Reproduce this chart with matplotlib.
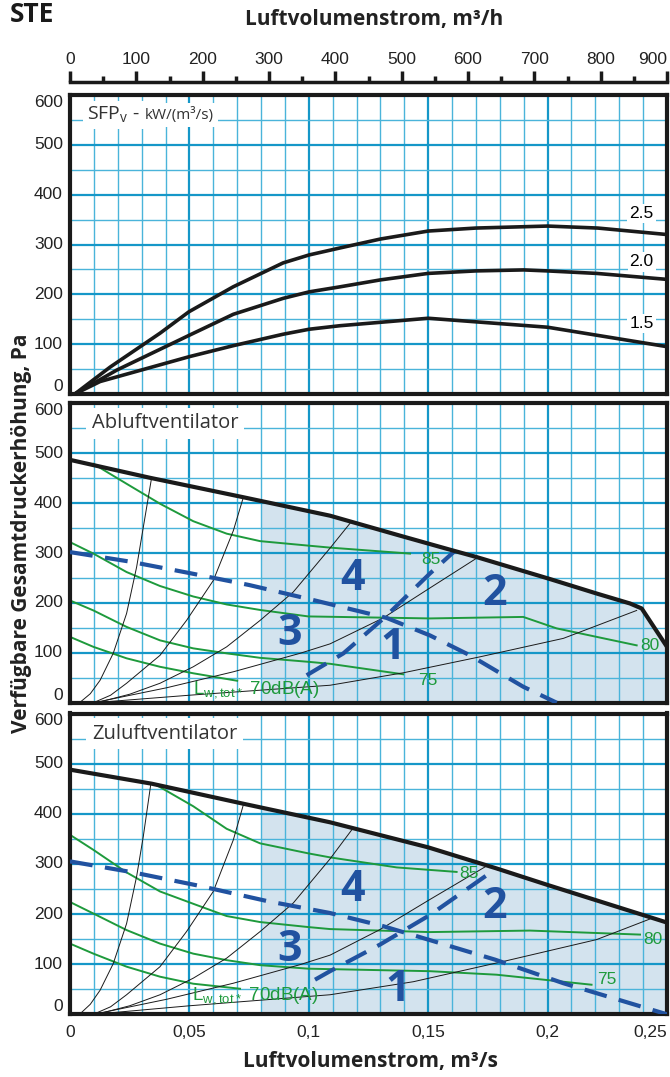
import numpy as np
import matplotlib.pyplot as plt
import matplotlib.font_manager as fm
from matplotlib.ticker import MultipleLocator

# ---- top panel: SFPv curves (x in m3/s, y in Pa)
sfp25_x = [0.002, 0.0168, 0.0377, 0.0498, 0.0683, 0.0892, 0.1001, 0.113, 0.130, 0.150, 0.170, 0.200, 0.221, 0.25]
sfp25_y = [0, 54, 122, 165, 215, 263, 279, 293, 311, 327, 333, 337, 333, 320]
sfp20_x = [0.002, 0.0196, 0.050, 0.0684, 0.0893, 0.1002, 0.113, 0.130, 0.150, 0.170, 0.190, 0.200, 0.2205, 0.25]
sfp20_y = [0, 48, 118, 160, 192, 205, 215, 229, 242, 247, 249, 247, 242, 230]
sfp15_x = [0.002, 0.0126, 0.050, 0.0684, 0.0893, 0.1002, 0.113, 0.150, 0.200, 0.25]
sfp15_y = [0, 25, 75, 97, 120, 130, 137, 152, 134, 95]
sfp_labels = ['2.5', '2.0', '1.5']
sfp_label_y = [363, 265, 142]

# ---- Abluftventilator
ab_max_x = [0, 0.0335, 0.0726, 0.1089, 0.1382, 0.1605, 0.1703, 0.2003, 0.2205, 0.2345, 0.2394, 0.25]
ab_max_y = [487, 451, 412, 375, 335, 305, 292, 249, 219, 199, 189, 112]
ab_dash1_x = [0, 0.025, 0.05, 0.075, 0.1, 0.1326, 0.1507, 0.1675, 0.1898, 0.2038]
ab_dash1_y = [302, 283, 260, 236, 208, 170, 135, 95, 32, 0]
ab_dash2_x = [0.0991, 0.1145, 0.132, 0.1507, 0.1613]
ab_dash2_y = [55, 99, 172, 259, 305]
ab_g85_x = [0.0098, 0.0237, 0.0377, 0.0516, 0.0656, 0.0796, 0.0998, 0.1089, 0.1424]
ab_g85_y = [479, 439, 399, 364, 339, 324, 315, 311, 299]
ab_g80_x = [0, 0.0098, 0.0237, 0.0377, 0.0516, 0.0656, 0.0796, 0.0998, 0.1507, 0.1898, 0.2038, 0.2373]
ab_g80_y = [322, 299, 262, 234, 213, 197, 186, 173, 169, 172, 149, 115]
ab_g75_x = [0, 0.0098, 0.0237, 0.0377, 0.0516, 0.0656, 0.0796, 0.0998, 0.1089, 0.1395]
ab_g75_y = [205, 185, 152, 125, 109, 99, 90, 82, 78, 57]
ab_g70_x = [0, 0.0098, 0.0237, 0.0377, 0.0516, 0.0700]
ab_g70_y = [132, 112, 89, 72, 59, 44]
ab_t1_x = [0.004, 0.0085, 0.0126, 0.0181, 0.0237, 0.0279, 0.0307, 0.0342]
ab_t1_y = [0, 18, 45, 99, 179, 272, 352, 452]
ab_t2_x = [0.0098, 0.017, 0.0237, 0.0377, 0.0488, 0.0600, 0.0684, 0.0726]
ab_t2_y = [0, 15, 39, 95, 165, 245, 345, 412]
ab_t3_x = [0.0112, 0.025, 0.0377, 0.0516, 0.0656, 0.0796, 0.0935, 0.1005, 0.1089, 0.1173]
ab_t3_y = [0, 17, 39, 72, 112, 165, 222, 262, 310, 360]
ab_t4_x = [0.01, 0.0405, 0.0684, 0.0963, 0.1089, 0.1312, 0.1507, 0.171]
ab_t4_y = [0, 30, 62, 99, 118, 170, 230, 292]
ab_t5_x = [0.01, 0.05, 0.1089, 0.1396, 0.1717, 0.2066, 0.2373]
ab_t5_y = [0, 15, 35, 60, 92, 129, 185]

# ---- Zuluftventilator
zu_max_x = [0, 0.0342, 0.0726, 0.1089, 0.150, 0.1786, 0.200, 0.25]
zu_max_y = [488, 460, 420, 383, 333, 291, 258, 183]
zu_dash1_x = [0, 0.0265, 0.0544, 0.0824, 0.1089, 0.131, 0.150, 0.178, 0.2066, 0.25]
zu_dash1_y = [305, 283, 256, 226, 202, 176, 149, 109, 62, 0]
zu_dash2_x = [0.1026, 0.1089, 0.1298, 0.1507, 0.1786]
zu_dash2_y = [69, 86, 139, 198, 291]
zu_g85_x = [0.0363, 0.0516, 0.0656, 0.0796, 0.0998, 0.1089, 0.1368, 0.1619]
zu_g85_y = [457, 415, 370, 341, 321, 313, 293, 284]
zu_g80_x = [0, 0.0098, 0.0237, 0.0377, 0.053, 0.0656, 0.0796, 0.0998, 0.1089, 0.1507, 0.1926, 0.2387]
zu_g80_y = [358, 328, 283, 245, 218, 196, 184, 174, 170, 164, 167, 159]
zu_g75_x = [0, 0.0098, 0.0237, 0.0377, 0.0516, 0.0656, 0.0796, 0.0998, 0.1507, 0.1786, 0.2184]
zu_g75_y = [224, 201, 168, 141, 121, 108, 98, 91, 86, 79, 59]
zu_g70_x = [0, 0.0098, 0.0237, 0.0377, 0.0516, 0.0712]
zu_g70_y = [141, 121, 95, 75, 61, 51]
zu_t1_x = [0.004, 0.0085, 0.0126, 0.0181, 0.0237, 0.0279, 0.0307, 0.0338]
zu_t1_y = [0, 20, 48, 101, 181, 275, 355, 458]
zu_t2_x = [0.0098, 0.017, 0.0237, 0.0377, 0.0488, 0.0600, 0.0684, 0.0726]
zu_t2_y = [0, 15, 39, 95, 165, 245, 348, 418]
zu_t3_x = [0.0112, 0.025, 0.0377, 0.0516, 0.0656, 0.0796, 0.0935, 0.1005, 0.1089, 0.118]
zu_t3_y = [0, 17, 39, 72, 112, 165, 222, 262, 310, 368]
zu_t4_x = [0.01, 0.0405, 0.0684, 0.0963, 0.1089, 0.1298, 0.1507, 0.1738]
zu_t4_y = [0, 30, 62, 99, 118, 169, 229, 294]
zu_t5_x = [0.01, 0.05, 0.1089, 0.1438, 0.1829, 0.2205, 0.2428]
zu_t5_y = [0, 17, 39, 65, 107, 149, 190]

shade_from = 0.08
y_ticks = [0, 100, 200, 300, 400, 500, 600]
x_ticks = [0, 0.05, 0.1, 0.15, 0.2, 0.25]
x_tick_labels = ['0', '0,05', '0,1', '0,15', '0,2', '0,25']
top_ticks = [0, 100, 200, 300, 400, 500, 600, 700, 800, 900]

names = {f.name for f in fm.fontManager.ttflist}
if 'Liberation Sans Narrow' in names:
    narrow, tsize = 'Liberation Sans Narrow', 13.5
elif 'Liberation Sans' in names:
    narrow, tsize = 'Liberation Sans', 12.5
else:
    narrow, tsize = 'DejaVu Sans', 11
lfont = 'Open Sans' if 'Open Sans' in names else 'DejaVu Sans'

GRID_MAJ = '#1597c8'
GRID_MIN = '#4ab4da'
BLUE = '#2152a0'
GREEN = '#1e9a3c'
SHADE = '#d3e3ee'
DARK = '#1a1a1a'

W, H = 670, 1077
fig = plt.figure(figsize=(W / 100, H / 100), dpi=100)


def rect(top, bottom):
    return [70 / W, 1 - bottom / H, 597 / W, (bottom - top) / H]


def base_axes(r):
    ax = fig.add_axes(r)
    ax.set_xlim(0, 0.25)
    ax.set_ylim(0, 600)
    ax.xaxis.set_major_locator(MultipleLocator(0.05))
    ax.xaxis.set_minor_locator(MultipleLocator(0.01))
    ax.yaxis.set_major_locator(MultipleLocator(100))
    ax.yaxis.set_minor_locator(MultipleLocator(50))
    ax.grid(which='major', color=GRID_MAJ, lw=1.6)
    ax.grid(which='minor', color=GRID_MIN, lw=1.0)
    ax.set_axisbelow(True)
    for s in ax.spines.values():
        s.set_linewidth(3)
        s.set_color(DARK)
    ax.tick_params(which='both', length=0, labelleft=False, labelbottom=False)
    # y tick labels as texts so the end labels can sit inside the panel
    for v in y_ticks:
        va = 'bottom' if v == 0 else ('top' if v == 600 else 'center')
        ax.text(-0.012, v, str(v), transform=ax.get_yaxis_transform(),
                ha='right', va=va, fontsize=tsize, family=narrow, color='#222222')
    return ax


def fan_panel(ax, title, mx, my, d1x, d1y, d2x, d2y, greens, thins, glabels, lw_pos, nums):
    mx = np.asarray(mx)
    sx = np.concatenate([[shade_from], mx[mx > shade_from]])
    sy = np.interp(sx, mx, my)
    ax.fill_between(sx, 0, sy, color=SHADE, lw=0, zorder=0.2)
    for gx, gy in greens:
        ax.plot(gx, gy, color=GREEN, lw=1.4, zorder=2)
    for tx, ty in thins:
        ax.plot(tx, ty, color=DARK, lw=0.7, zorder=2)
    ax.plot(mx, my, color=DARK, lw=3, zorder=4, solid_capstyle='butt')
    for dx, dy in [(d1x, d1y), (d2x, d2y)]:
        ax.plot(dx, dy, color=BLUE, lw=3, dashes=(5.5, 3), dash_capstyle='butt', zorder=3)
    for txt, x, y in glabels:
        ax.text(x, y, txt, color=GREEN, fontsize=tsize, family=narrow, ha='center', va='center', zorder=5)
    ax.text(lw_pos[0], lw_pos[1], r'L$_{\mathregular{w,tot*}}$ 70dB(A)', color=GREEN,
            fontsize=tsize + 1, family=narrow, ha='left', va='center', zorder=5)
    for txt, x, y in nums:
        ax.text(x, y, txt, color=BLUE, fontsize=31, fontweight='bold', family=lfont,
                ha='center', va='center', zorder=5)
    ax.text(0.0092, 560, title, fontsize=14.5, family=lfont, color='#333333', ha='left', va='center',
            zorder=6, bbox=dict(facecolor='white', edgecolor='none', pad=4))


# ---- top panel
ax1 = base_axes(rect(95, 394))
for cx, cy in [(sfp25_x, sfp25_y), (sfp20_x, sfp20_y), (sfp15_x, sfp15_y)]:
    ax1.plot(cx, cy, color=DARK, lw=2.6, zorder=3)
for txt, y in zip(sfp_labels, sfp_label_y):
    ax1.text(0.2394, y, txt, fontsize=tsize, family=narrow, ha='center', va='center', zorder=5,
             bbox=dict(facecolor='white', edgecolor='none', pad=1.5))
t1 = ax1.text(0.0071, 560, r'SFP$_{\mathregular{v}}$ -', fontsize=14, family=lfont, color='#333333',
              ha='left', va='center', zorder=6, bbox=dict(facecolor='white', edgecolor='none', pad=3))
ax1.annotate('kW/(m³/s)', xy=(1, 0.5), xycoords=t1, xytext=(4, 0), textcoords='offset points',
             fontsize=11, family=lfont, color='#333333', ha='left', va='center', zorder=6,
             bbox=dict(facecolor='white', edgecolor='none', pad=3))

# ---- middle panel
ax2 = base_axes(rect(403.5, 702.7))
fan_panel(ax2, 'Abluftventilator', ab_max_x, ab_max_y, ab_dash1_x, ab_dash1_y, ab_dash2_x, ab_dash2_y,
          [(ab_g85_x, ab_g85_y), (ab_g80_x, ab_g80_y), (ab_g75_x, ab_g75_y), (ab_g70_x, ab_g70_y)],
          [(ab_t1_x, ab_t1_y), (ab_t2_x, ab_t2_y), (ab_t3_x, ab_t3_y), (ab_t4_x, ab_t4_y), (ab_t5_x, ab_t5_y)],
          [('85', 0.151, 287), ('80', 0.2428, 114), ('75', 0.1497, 44)], (0.0515, 25),
          [('4', 0.1185, 249), ('2', 0.178, 219), ('1', 0.1353, 111), ('3', 0.0921, 139)])

# ---- bottom panel
ax3 = base_axes(rect(713.5, 1014.3))
fan_panel(ax3, 'Zuluftventilator', zu_max_x, zu_max_y, zu_dash1_x, zu_dash1_y, zu_dash2_x, zu_dash2_y,
          [(zu_g85_x, zu_g85_y), (zu_g80_x, zu_g80_y), (zu_g75_x, zu_g75_y), (zu_g70_x, zu_g70_y)],
          [(zu_t1_x, zu_t1_y), (zu_t2_x, zu_t2_y), (zu_t3_x, zu_t3_y), (zu_t4_x, zu_t4_y), (zu_t5_x, zu_t5_y)],
          [('85', 0.167, 280), ('80', 0.2441, 150), ('75', 0.225, 70)], (0.0511, 35),
          [('4', 0.1185, 249), ('2', 0.178, 216), ('1', 0.1373, 49), ('3', 0.0921, 129)])
for v, lab in zip(x_ticks, x_tick_labels):
    ha = 'right' if v == x_ticks[-1] else 'center'
    ax3.text(v, -0.06, lab, transform=ax3.get_xaxis_transform(), ha=ha, va='center',
             fontsize=tsize, family=narrow, color='#222222')

# ---- top axis in m3/h
axt = fig.add_axes([70 / W, 1 - 82 / H, 597 / W, 10 / H])
axt.set_xlim(0, 900)
axt.set_ylim(0, 1)
axt.set_yticks([])
for k in ['top', 'left', 'right']:
    axt.spines[k].set_visible(False)
axt.spines['bottom'].set_linewidth(2.5)
axt.spines['bottom'].set_color(DARK)
axt.patch.set_alpha(0)
axt.set_xticks(top_ticks)
axt.xaxis.set_minor_locator(MultipleLocator(50))
axt.tick_params(which='major', direction='in', length=8, width=2.5, color=DARK, labelbottom=False)
axt.tick_params(which='minor', direction='in', length=4, width=2.5, color=DARK)
for v in top_ticks:
    ha = 'right' if v == top_ticks[-1] else 'center'
    axt.text(v, 2.3, str(v), transform=axt.get_xaxis_transform(), ha=ha, va='center',
             fontsize=tsize, family=narrow, color='#222222')

# ---- titles
fig.text(10 / W, 1 - 15 / H, 'STE', fontsize=19, fontweight='bold', family=lfont, ha='left', va='center', color=DARK)
fig.text(374 / W, 1 - 20 / H, 'Luftvolumenstrom, m³/h', fontsize=15, fontweight='bold', family=lfont,
         ha='center', va='center', color='#222222')
fig.text(370 / W, 1 - 1062 / H, 'Luftvolumenstrom, m³/s', fontsize=15, fontweight='bold', family=lfont,
         ha='center', va='center', color='#222222')
fig.text(22 / W, 1 - 533 / H, 'Verfügbare Gesamtdruckerhöhung, Pa', fontsize=15, fontweight='bold',
         family=lfont, rotation=90, ha='center', va='center', color='#222222')

fig.savefig('out.png', dpi=100)
